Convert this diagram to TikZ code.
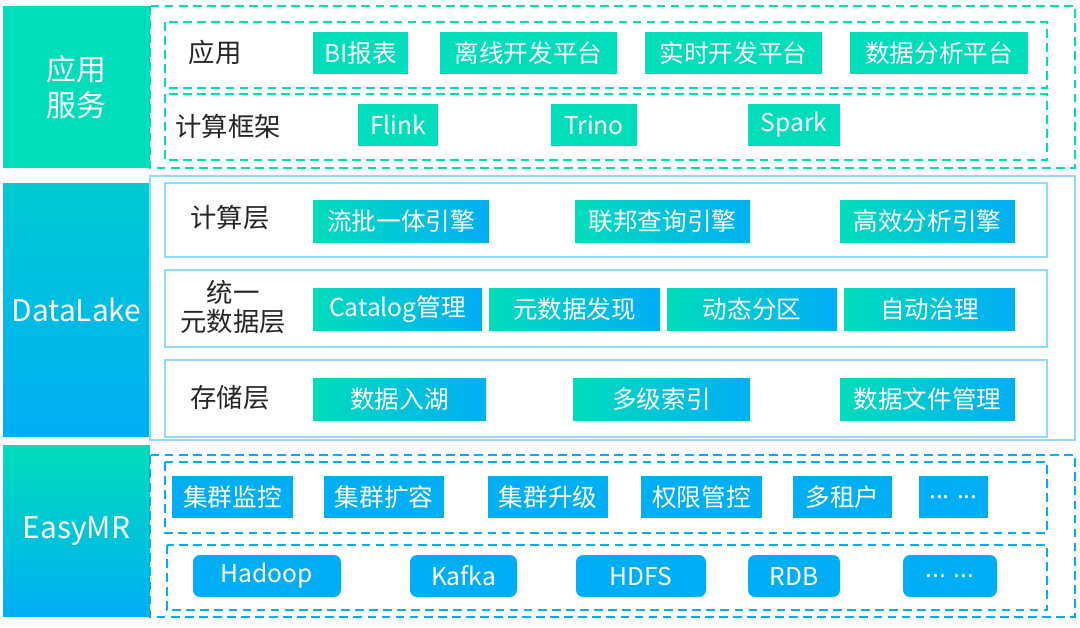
\documentclass[tikz,border=0pt]{standalone}
\usepackage{fontspec}
\setmainfont{Noto Sans CJK SC}
\usetikzlibrary{positioning}
\definecolor{teal1}{RGB}{0,221,187}
\definecolor{blue1}{RGB}{0,174,245}
\definecolor{line1}{RGB}{140,220,250}
\begin{document}
\begin{tikzpicture}[x=0.02cm, y=-0.02cm,
  side/.style={rectangle, inner sep=0pt, text=white, font=\fontsize{17}{20}\selectfont, align=center},
  lbl/.style={font=\fontsize{15}{17}\selectfont, align=center, text=black!85},
  btn/.style={rectangle, inner sep=0pt, minimum width=#1*0.02cm, minimum height=0.84cm, text=white, font=\fontsize{14}{16}\selectfont},
  gbtn/.style={btn=#1, left color=teal1, right color=blue1, draw=none},
  tbtn/.style={btn=#1, fill=teal1},
  bbtn/.style={btn=#1, fill=blue1},
  rbtn/.style={btn=#1, fill=blue1, rounded corners=4pt},
  dash/.style={draw=#1, dashed, dash pattern=on 5pt off 3pt, line width=0.9pt},
  solid box/.style={draw=line1, line width=0.9pt}]
  \useasboundingbox (0,0) rectangle (1080,627);
  \fill[blue!2] (0,0) rectangle (1080,627);
  % left column
  \node[side, fill=teal1, minimum width=2.94cm, minimum height=3.24cm] (app) at (76.5,87) {应用\\服务};
  \node[side, top color=teal1!60!blue1, bottom color=blue1, minimum width=2.94cm, minimum height=5.08cm] (lake) at (76.5,310) {DataLake};
  \node[side, top color=teal1, bottom color=blue1, minimum width=2.94cm, minimum height=3.44cm] (emr) at (76.5,531) {EasyMR};
  % frames
  \draw[dash=teal1, fill=white] (150,6) rectangle (1075,168);
  \draw[dash=teal1] (165,22) rectangle (1047,88);
  \draw[dash=teal1] (165,94) rectangle (1047,160);
  \draw[solid box, fill=white] (150,176) rectangle (1075,440);
  \draw[solid box] (165,183) rectangle (1047,257);
  \draw[solid box] (165,270) rectangle (1047,347);
  \draw[solid box] (165,360) rectangle (1047,437);
  \draw[dash=blue1, fill=white] (150,455) rectangle (1075,617);
  \draw[dash=blue1] (165,462) rectangle (1047,533);
  \draw[dash=blue1] (167,545) rectangle (1047,610);
  % 应用服务
  \node[lbl] (yy) at (215,52) {应用};
  \node[tbtn=95]  (bi)  at (360.5,53) {BI报表};
  \node[tbtn=177] (lx)  at (528.5,53) {离线开发平台};
  \node[tbtn=177] (ss)  at (733.5,53) {实时开发平台};
  \node[tbtn=178] (fx)  at (939,53) {数据分析平台};
  \node[lbl] (kj) at (228,126) {计算框架};
  \node[tbtn=80] (flink) at (398,125) {Flink};
  \node[tbtn=86] (trino) at (594,125) {Trino};
  \node[tbtn=92] (spark) at (794,125) {Spark};
  % DataLake
  \node[lbl] (jsc) at (230,218) {计算层};
  \node[gbtn=176] (lp) at (401,221) {流批一体引擎};
  \node[gbtn=175] (lb) at (662.5,221) {联邦查询引擎};
  \node[gbtn=175] (gx) at (927.5,221) {高效分析引擎};
  \node[lbl] (ysj) at (233,307) {统一\\元数据层};
  \node[gbtn=169] (cat) at (397.5,309) {Catalog管理};
  \node[gbtn=171] (fx2) at (574.5,309) {元数据发现};
  \node[gbtn=170] (dt)  at (752,309) {动态分区};
  \node[gbtn=171] (zl)  at (929.5,309) {自动治理};
  \node[lbl] (ccc) at (230,398) {存储层};
  \node[gbtn=173] (rh) at (399.5,399) {数据入湖};
  \node[gbtn=177] (sy) at (661.5,399) {多级索引};
  \node[gbtn=175] (wj) at (927.5,399) {数据文件管理};
  % EasyMR
  \node[bbtn=121] (jk) at (232.5,497) {集群监控};
  \node[bbtn=120] (kr) at (384,497) {集群扩容};
  \node[bbtn=120] (sj) at (548,497) {集群升级};
  \node[bbtn=121] (qx) at (701.5,497) {权限管控};
  \node[bbtn=99]  (zh) at (842.5,497) {多租户};
  \node[bbtn=69]  (more1) at (953.5,497) {... ...};
  \node[rbtn=148] (hd) at (267,576) {Hadoop};
  \node[rbtn=107] (kf) at (463.5,576) {Kafka};
  \node[rbtn=130] (hdfs) at (641,576) {HDFS};
  \node[rbtn=92]  (rdb) at (794,576) {RDB};
  \node[rbtn=94]  (more2) at (950,576) {... ...};
\end{tikzpicture}
\end{document}
